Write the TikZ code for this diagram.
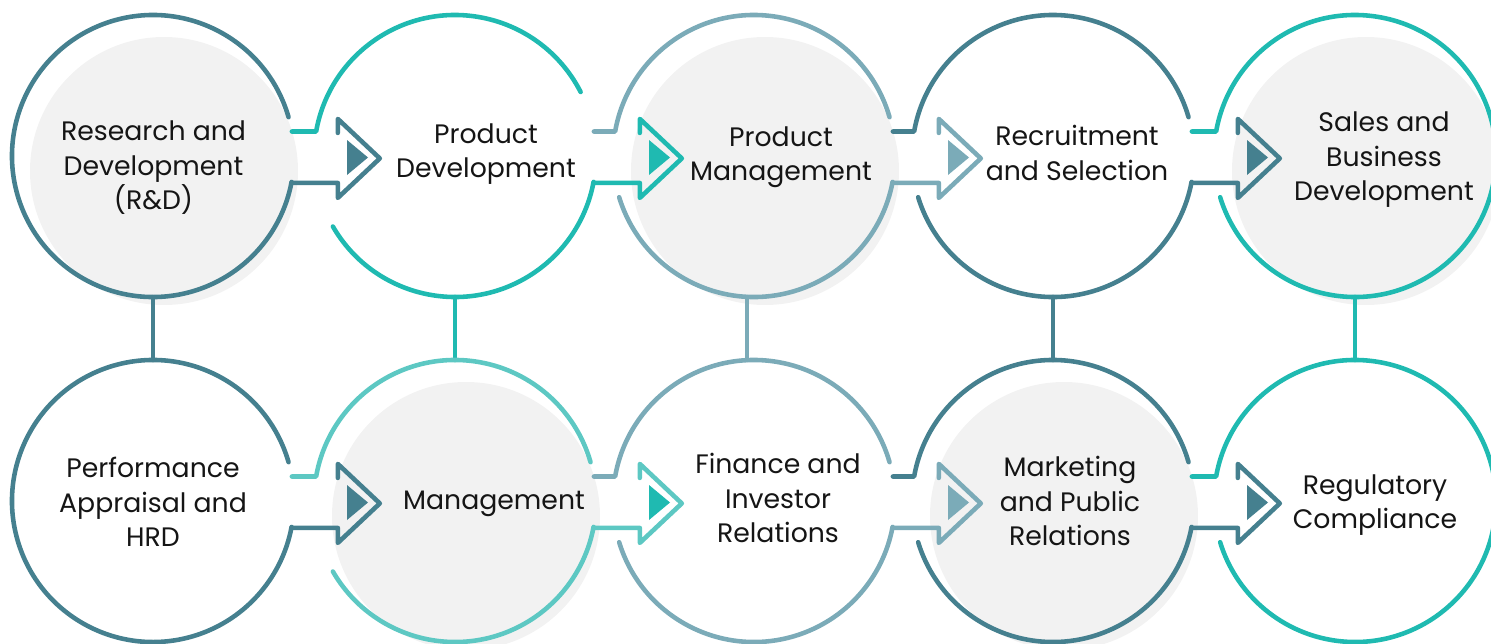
\documentclass[tikz,border=0pt]{standalone}
\usepackage{fontspec}
\setmainfont{Poppins}
\definecolor{deepc}{HTML}{45808F}
\definecolor{aquac}{HTML}{1FBAB1}
\definecolor{mistc}{HTML}{7BABB8}
\definecolor{mintc}{HTML}{5DC8C3}
\definecolor{paper}{HTML}{F2F2F2}
\definecolor{ink}{HTML}{151515}
\tikzset{
  rim/.style={line width=1.3pt, line cap=round, line join=round},
  hub/.style={circle, minimum size=2.82cm, inner sep=0pt, outer sep=0pt},
  lbl/.style={align=center, text=ink, font=\fontsize{7.6}{9.8}\selectfont}
}
\newcommand{\chevron}[3]{%
  \draw[rim, #2] (#1.349.4) -- ++(0.464,0) -- ++(0,-0.15) -- ++(0.42,0.395)
    -- ++(-0.42,0.395) -- ++(0,-0.14);
  \fill[#3, shift={(#1)}] (1.94,0.16) -- ++(0,-0.35) -- ++(0.21,0.175) -- cycle;}
\begin{document}
\begin{tikzpicture}
  \useasboundingbox (0,0) rectangle (14.91,6.43);
  \node[hub] (rd) at (1.53,4.87) {};
  \node[hub] (pd) at (4.55,4.87) {};
  \node[hub] (pm) at (7.54,4.87) {};
  \node[hub] (rs) at (10.53,4.87) {};
  \node[hub] (sb) at (13.55,4.87) {};
  \node[hub] (pa) at (1.53,1.42) {};
  \node[hub] (mg) at (4.55,1.42) {};
  \node[hub] (fi) at (7.54,1.42) {};
  \node[hub] (mp) at (10.53,1.42) {};
  \node[hub] (rc) at (13.55,1.42) {};

  \fill[paper] ([shift={(0.11,-0.15)}]rd.center) circle (1.34);
  \fill[paper] ([shift={(0.11,-0.15)}]pm.center) circle (1.34);
  \fill[paper] ([shift={(0.11,-0.15)}]sb.center) circle (1.34);
  \fill[paper] ([shift={(0.11,-0.15)}]mg.center) circle (1.34);
  \fill[paper] ([shift={(0.11,-0.15)}]mp.center) circle (1.34);

  \draw[rim, deepc] (rd.south) -- (pa.north);
  \draw[rim, aquac] (pd.south) -- (mg.north);
  \draw[rim, mistc] ([xshift=-0.07cm]pm.south) -- ([xshift=-0.07cm]fi.north);
  \draw[rim, deepc] (rs.south) -- (mp.north);
  \draw[rim, aquac] (sb.south) -- (rc.north);

  \draw[rim, deepc] (rd.16) arc[start angle=16, end angle=349.4, radius=1.41];
  \chevron{rd}{deepc}{deepc}
  \draw[rim, aquac] (rd.10) -- (pd.170) arc[start angle=170, end angle=27, radius=1.41];
  \draw[rim, aquac] (pd.210) arc[start angle=210, end angle=349.4, radius=1.41];
  \chevron{pd}{aquac}{aquac}
  \draw[rim, mistc] (pd.10) -- (pm.170) arc[start angle=170, end angle=16, radius=1.41];
  \draw[rim, mistc] (pm.197) arc[start angle=197, end angle=349.4, radius=1.41];
  \chevron{pm}{mistc}{mistc}
  \draw[rim, deepc] (pm.10) -- (rs.170) arc[start angle=170, end angle=16, radius=1.41];
  \draw[rim, deepc] (rs.197) arc[start angle=197, end angle=349.4, radius=1.41];
  \chevron{rs}{deepc}{deepc}
  \draw[rim, aquac] (rs.10) -- (sb.170) arc[start angle=170, end angle=-163, radius=1.41];

  \draw[rim, deepc] (pa.16) arc[start angle=16, end angle=349.4, radius=1.41];
  \chevron{pa}{deepc}{deepc}
  \draw[rim, mintc] (pa.10) -- (mg.170) arc[start angle=170, end angle=16, radius=1.41];
  \draw[rim, mintc] (mg.210) arc[start angle=210, end angle=349.4, radius=1.41];
  \chevron{mg}{mintc}{aquac}
  \draw[rim, mistc] (mg.10) -- (fi.170) arc[start angle=170, end angle=16, radius=1.41];
  \draw[rim, mistc] (fi.197) arc[start angle=197, end angle=349.4, radius=1.41];
  \chevron{fi}{mistc}{mistc}
  \draw[rim, deepc] (fi.10) -- (mp.170) arc[start angle=170, end angle=16, radius=1.41];
  \draw[rim, deepc] (mp.197) arc[start angle=197, end angle=349.4, radius=1.41];
  \chevron{mp}{deepc}{deepc}
  \draw[rim, aquac] (mp.10) -- (rc.170) arc[start angle=170, end angle=-163, radius=1.41];

  \node[lbl] (rd text) at (1.535,4.75) {Research and\\Development\\(R\&D)};
  \node[lbl] (pd text) at (4.86,4.89) {Product\\Development};
  \node[lbl] (pm text) at (7.81,4.86) {Product\\Management};
  \node[lbl] (rs text) at (10.77,4.90) {Recruitment\\and Selection};
  \node[lbl] (sb text) at (13.84,4.83) {Sales and\\Business\\Development};
  \node[lbl] (pa text) at (1.53,1.41) {Performance\\Appraisal and\\HRD};
  \node[lbl] (mg text) at (4.94,1.39) {Management};
  \node[lbl] (fi text) at (7.78,1.45) {Finance and\\Investor\\Relations};
  \node[lbl] (mp text) at (10.70,1.42) {Marketing\\and Public\\Relations};
  \node[lbl] (rc text) at (13.75,1.38) {Regulatory\\Compliance};
\end{tikzpicture}
\end{document}
